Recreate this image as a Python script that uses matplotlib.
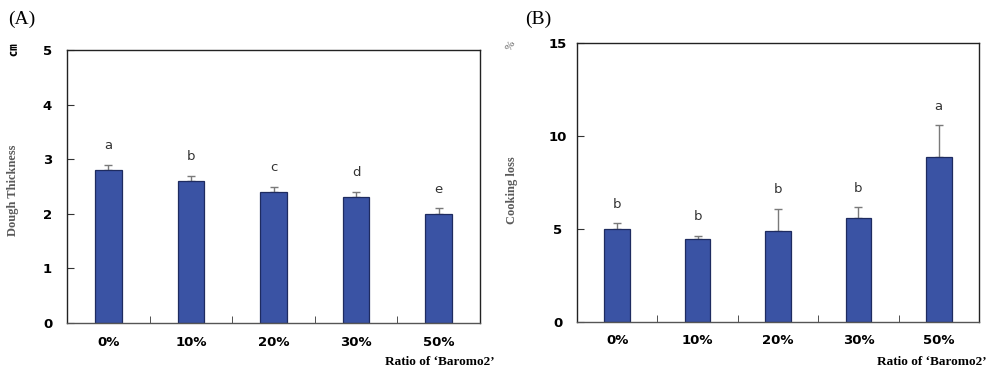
import matplotlib
matplotlib.use("Agg")
import matplotlib.pyplot as plt
import numpy as np

categories = ["0%", "10%", "20%", "30%", "50%"]

thickness = [2.8, 2.6, 2.4, 2.3, 2.0]
thickness_err = [0.1, 0.1, 0.1, 0.1, 0.1]
thickness_letters = ["a", "b", "c", "d", "e"]

cookloss = [5.0, 4.45, 4.9, 5.6, 8.85]
cookloss_err = [0.32, 0.2, 1.2, 0.57, 1.75]
cookloss_letters = ["b", "b", "b", "b", "a"]

BAR = "#3A53A4"
EDGE = "#1E2B60"

fig = plt.figure(figsize=(9.95, 3.79), dpi=100)
W, H = 995, 379


def ax_rect(x0, y0, x1, y1):
    return [x0 / W, 1 - y1 / H, (x1 - x0) / W, (y1 - y0) / H]


def panel(rect, vals, errs, letters, ymax, yticks, letter_off):
    ax = fig.add_axes(rect)
    x = np.arange(len(categories))
    ax.errorbar(x, vals, yerr=[np.zeros(len(vals)), errs], fmt="none",
                ecolor="#7a7a7a", elinewidth=1.0, capsize=3, capthick=1.0, zorder=1)
    ax.bar(x, vals, width=0.32, color=BAR, edgecolor=EDGE, linewidth=0.9, zorder=2)
    for xi, v, e, l in zip(x, vals, errs, letters):
        ax.text(xi, v + e + letter_off, l, ha="center", va="center",
                fontsize=9.5, color="#333333")
    ax.set_xlim(-0.5, len(categories) - 0.5)
    ax.set_ylim(0, ymax)
    ax.set_yticks(yticks)
    ax.set_yticklabels([str(t) for t in yticks], fontweight="bold", fontsize=9.5)
    ax.set_xticks(x)
    ax.set_xticklabels(categories, fontweight="bold", fontsize=9.5)
    ax.set_xticks(np.arange(len(categories) - 1) + 0.5, minor=True)
    ax.tick_params(axis="x", which="major", length=0, pad=9)
    ax.tick_params(axis="x", which="minor", direction="in", length=5, color="#333333")
    ax.tick_params(axis="y", direction="in", length=5, pad=14, color="#333333")
    for t in ax.get_yticklabels():
        t.set_horizontalalignment("center")
    for s in ax.spines.values():
        s.set_color("#222222")
        s.set_linewidth(1.0)
    ax.spines["bottom"].set_color("#555555")
    return ax


axA = panel(ax_rect(67, 50, 480, 323), thickness, thickness_err, thickness_letters,
            5, [0, 1, 2, 3, 4, 5], 0.35)
axB = panel(ax_rect(577, 43, 979, 322), cookloss, cookloss_err, cookloss_letters,
            15, [0, 5, 10, 15], 1.0)

serif = "Liberation Serif"
fig.text(8 / W, 1 - 19 / H, "(A)", fontsize=14, family=serif, va="center", ha="left")
fig.text(538 / W, 1 - 19 / H, "(B)", fontsize=14, family=serif, va="center", ha="center")

fig.text(13 / W, 1 - 190 / H, "Dough Thickness", rotation=90, fontsize=9,
         family=serif, fontweight="bold", color="#5a5a5a", va="center", ha="center")
fig.text(14 / W, 1 - 50 / H, "㎝", rotation=90, fontsize=9,
         family=["Noto Sans CJK KR", "DejaVu Sans"], fontweight="bold", va="center", ha="center")
fig.text(512 / W, 1 - 190 / H, "Cooking loss", rotation=90, fontsize=9,
         family=serif, fontweight="bold", color="#5a5a5a", va="center", ha="center")
fig.text(511 / W, 1 - 46 / H, "%", rotation=60, fontsize=8,
         family=serif, color="#555555", va="center", ha="center")

fig.text(495 / W, 1 - 362 / H, "Ratio of ‘Baromo2’", fontsize=9.5, family=serif,
         fontweight="bold", va="center", ha="right")
fig.text(987 / W, 1 - 362 / H, "Ratio of ‘Baromo2’", fontsize=9.5, family=serif,
         fontweight="bold", va="center", ha="right")

fig.savefig("out.png", dpi=100)
